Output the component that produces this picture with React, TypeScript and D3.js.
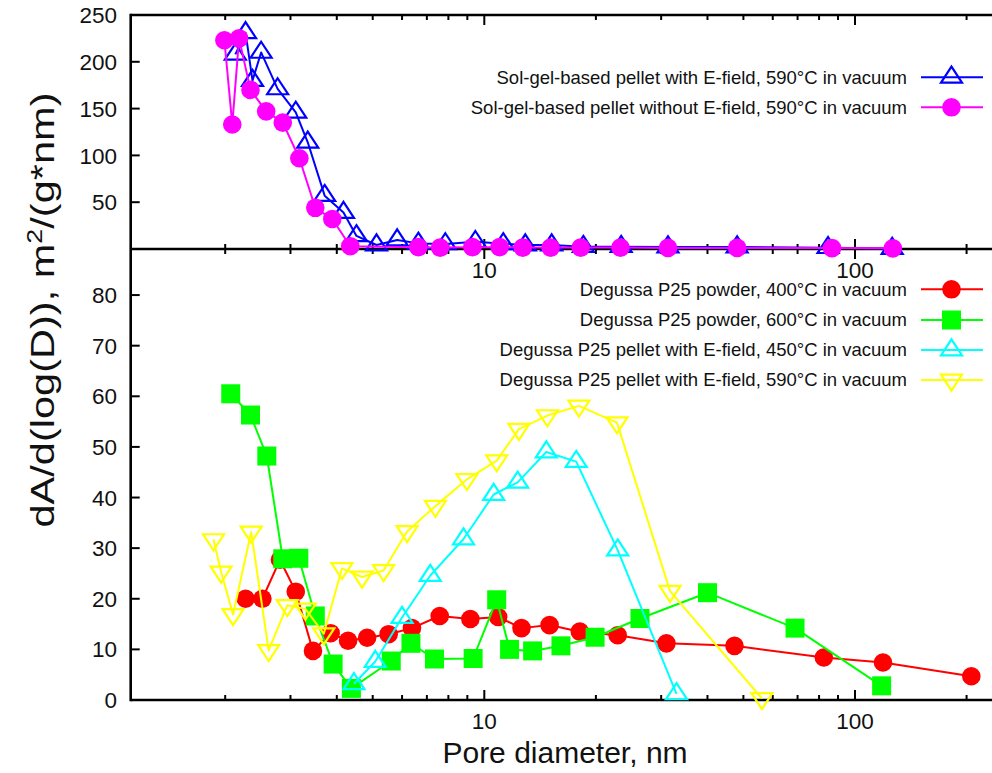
import React from "react";
import * as d3 from "d3";

// ---- Upper panel: sol-gel-based pellets ----
const solGelEfieldD = [2.13, 2.27, 2.37, 2.5, 2.77, 3.1, 3.34, 3.71, 4.17, 4.52, 5.12, 5.82, 6.64, 7.85, 9.46, 11.25, 12.9, 15.2, 18.5, 23.4, 31.3, 48.1, 84.6, 126];
const solGelEfieldV = [208, 231, 180, 210, 171, 146, 114, 57, 39, 14, 4.3, 9.6, 6, 5.4, 7.8, 5.5, 4.3, 4.3, 2.5, 2.5, 2.1, 2.1, 1.4, 0.5];

const solGelNoFieldD = [1.99, 2.09, 2.18, 2.34, 2.58, 2.86, 3.17, 3.5, 3.89, 4.35, 6.64, 7.6, 9.29, 11.0, 12.7, 15.1, 18.2, 23.3, 31.3, 48.1, 86.7, 126.5];
const solGelNoFieldV = [223, 133, 225, 170, 147, 135, 97, 44, 32, 3, 2, 1.5, 2, 2, 1.5, 1.5, 1.5, 1.5, 1.2, 1.2, 1, 0.7];

// ---- Lower panel: Degussa P25 ----
const powder400D = [2.27, 2.52, 2.81, 3.1, 3.45, 3.85, 4.29, 4.83, 5.52, 6.38, 7.58, 9.17, 10.9, 12.6, 15.0, 18.1, 22.9, 31.0, 47.3, 82.4, 119, 206];
const powder400V = [20.0, 20.0, 27.7, 21.4, 9.7, 13.2, 11.7, 12.3, 13.0, 14.2, 16.6, 16.0, 16.4, 14.2, 14.8, 13.5, 12.8, 11.2, 10.7, 8.4, 7.4, 4.7];

const powder600D = [2.07, 2.34, 2.59, 2.86, 3.16, 3.5, 3.91, 4.38, 5.61, 6.34, 7.34, 9.33, 10.8, 11.7, 13.5, 16.1, 19.9, 26.3, 40.0, 68.9, 118];
const powder600V = [60.5, 56.3, 48.2, 27.9, 28.0, 16.6, 7.1, 2.3, 7.7, 11.2, 8.1, 8.2, 19.8, 10.0, 9.7, 10.7, 12.4, 16.1, 21.2, 14.2, 2.8];

const pellet450D = [4.45, 5.08, 6.0, 7.15, 8.79, 10.6, 12.3, 14.7, 17.7, 22.9, 33.0];
const pellet450V = [3.2, 7.6, 16.3, 24.6, 31.8, 40.6, 43.0, 49.0, 47.1, 29.6, 1.2];

const pellet590D = [1.86, 1.95, 2.1, 2.35, 2.62, 2.94, 3.29, 3.69, 4.13, 4.68, 5.35, 6.19, 7.38, 8.98, 10.8, 12.4, 14.8, 18.0, 22.8, 31.7, 56.1];
const pellet590V = [31.7, 25.3, 16.9, 33.2, 9.8, 18.7, 18.0, 13.1, 26.0, 24.3, 25.6, 33.3, 38.3, 43.6, 47.3, 53.5, 56.2, 58.1, 54.8, 21.5, 0.3];

// ---- Axes ----
const xDomain = [1.112, 250];
const xMajorTicks = [10, 100];
const xMinorTicks = [2, 3, 4, 5, 6, 7, 8, 9, 20, 30, 40, 50, 60, 70, 80, 90, 200];
const topYTicks = [50, 100, 150, 200, 250];
const botYTicks = [0, 10, 20, 30, 40, 50, 60, 70, 80];

const topLegend = [
  "Sol-gel-based pellet with E-field, 590°C in vacuum",
  "Sol-gel-based pellet without E-field, 590°C in vacuum",
];
const botLegend = [
  "Degussa P25 powder, 400°C in vacuum",
  "Degussa P25 powder, 600°C in vacuum",
  "Degussa P25 pellet with E-field, 450°C in vacuum",
  "Degussa P25 pellet with E-field, 590°C in vacuum",
];

type Marker = "circle" | "square" | "tri" | "triDown";

const FONT = "'Liberation Sans', Arial, Helvetica, sans-serif";
const W = 992;
const H = 773;
const LEFT = 130.7;
const RIGHT = 1002.5;
const TOP = 15;
const SEP = 249;
const BOTTOM = 700;

const x = d3.scaleLog().domain(xDomain).range([LEFT, RIGHT]);
const yTop = d3.scaleLinear().domain([0, 250]).range([SEP, TOP]);
const yBot = d3.scaleLinear().domain([0, 89.1]).range([BOTTOM, SEP]);

function markerPath(kind: Marker, cx: number, cy: number): string {
  if (kind === "circle") {
    const r = 9.3;
    return `M${cx - r},${cy}a${r},${r} 0 1,0 ${2 * r},0a${r},${r} 0 1,0 ${-2 * r},0Z`;
  }
  if (kind === "square") {
    const h = 9.5;
    return `M${cx - h},${cy - h}H${cx + h}V${cy + h}H${cx - h}Z`;
  }
  const hw = 10.5;
  if (kind === "tri") {
    return `M${cx},${cy - 10.7}L${cx + hw},${cy + 5.3}L${cx - hw},${cy + 5.3}Z`;
  }
  return `M${cx},${cy + 10.7}L${cx + hw},${cy - 5.3}L${cx - hw},${cy - 5.3}Z`;
}

function Series({ xs, ys, y, color, marker }: { xs: number[]; ys: number[]; y: d3.ScaleLinear<number, number>; color: string; marker: Marker }) {
  const pts = xs.map((d, i) => [d, ys[i]] as [number, number]);
  const line = d3.line<[number, number]>().x((p) => x(p[0])).y((p) => y(p[1]));
  const filled = marker === "circle" || marker === "square";
  return (
    <g>
      <path d={line(pts) || ""} fill="none" stroke={color} strokeWidth={2} strokeLinejoin="round" />
      {pts.map((p, i) => (
        <path
          key={i}
          d={markerPath(marker, x(p[0]), y(p[1]))}
          fill={filled ? color : "none"}
          stroke={filled ? "none" : color}
          strokeWidth={2.2}
        />
      ))}
    </g>
  );
}

function LegendRow({ label, color, marker, cy }: { label: string; color: string; marker: Marker; cy: number }) {
  const filled = marker === "circle" || marker === "square";
  return (
    <g>
      <text x={907} y={cy} dy="0.35em" textAnchor="end" fontSize={18.5} fontFamily={FONT} fill="#111">
        {label}
      </text>
      <line x1={921} x2={983} y1={cy} y2={cy} stroke={color} strokeWidth={2} />
      <path d={markerPath(marker, 951.5, cy)} fill={filled ? color : "none"} stroke={filled ? "none" : color} strokeWidth={2.2} />
    </g>
  );
}

export default function App() {
  const axisW = 2.6;
  const xTicksAt = (yLine: number, dir: number) => (
    <g>
      {xMajorTicks.map((t) => (
        <line key={"M" + t} x1={x(t)} x2={x(t)} y1={yLine} y2={yLine + dir * 10} stroke="#000" strokeWidth={2} />
      ))}
      {xMinorTicks.map((t) => (
        <line key={"m" + t} x1={x(t)} x2={x(t)} y1={yLine} y2={yLine + dir * 5} stroke="#000" strokeWidth={2} />
      ))}
    </g>
  );

  return (
    <svg width={W} height={H} style={{ position: "absolute", left: 0, top: 0, background: "#fff" }} fontFamily={FONT}>
      <rect x={0} y={0} width={W} height={H} fill="#fff" />

      {/* frame */}
      <line x1={LEFT} x2={RIGHT} y1={TOP} y2={TOP} stroke="#000" strokeWidth={axisW} />
      <line x1={LEFT} x2={RIGHT} y1={SEP} y2={SEP} stroke="#000" strokeWidth={axisW} />
      <line x1={LEFT} x2={RIGHT} y1={BOTTOM} y2={BOTTOM} stroke="#000" strokeWidth={axisW} />
      <line x1={LEFT} x2={LEFT} y1={TOP - 1.3} y2={BOTTOM + 1.3} stroke="#000" strokeWidth={axisW} />

      {/* x ticks */}
      {xTicksAt(TOP, 1)}
      {xTicksAt(SEP, -1)}
      {xTicksAt(SEP, 1)}
      {xTicksAt(BOTTOM, -1)}

      {/* y ticks + labels, upper panel */}
      {topYTicks.map((t) => (
        <g key={"ty" + t}>
          {t < 250 && <line x1={LEFT} x2={LEFT + 9} y1={yTop(t)} y2={yTop(t)} stroke="#000" strokeWidth={2} />}
          <text x={117} y={yTop(t)} dy="0.36em" textAnchor="end" fontSize={22.5} fill="#111">
            {t}
          </text>
        </g>
      ))}

      {/* y ticks + labels, lower panel */}
      {botYTicks.map((t) => (
        <g key={"by" + t}>
          {t > 0 && <line x1={LEFT} x2={LEFT + 9} y1={yBot(t)} y2={yBot(t)} stroke="#000" strokeWidth={2} />}
          <text x={117} y={yBot(t)} dy="0.36em" textAnchor="end" fontSize={22.5} fill="#111">
            {t}
          </text>
        </g>
      ))}

      {/* x tick labels */}
      {xMajorTicks.map((t) => (
        <g key={"xl" + t}>
          <text x={x(t)} y={278} textAnchor="middle" fontSize={22.5} fill="#111">
            {t}
          </text>
          <text x={x(t)} y={729} textAnchor="middle" fontSize={22.5} fill="#111">
            {t}
          </text>
        </g>
      ))}

      {/* axis titles */}
      <text x={565} y={763} textAnchor="middle" fontSize={30} fill="#111">
        Pore diameter, nm
      </text>
      <text
        transform="translate(54,310) rotate(-90)"
        textAnchor="middle"
        fontSize={34}
        fill="#111"
        textLength={435}
        lengthAdjust="spacingAndGlyphs"
      >
        dA/d(log(D)), m<tspan baseline-shift="super" fontSize={22}>2</tspan>/(g*nm)
      </text>

      {/* upper panel data */}
      <Series xs={solGelEfieldD} ys={solGelEfieldV} y={yTop} color="#0000ff" marker="tri" />
      <Series xs={solGelNoFieldD} ys={solGelNoFieldV} y={yTop} color="#ff00ff" marker="circle" />

      {/* lower panel data */}
      <Series xs={powder400D} ys={powder400V} y={yBot} color="#ff0000" marker="circle" />
      <Series xs={powder600D} ys={powder600V} y={yBot} color="#00ff00" marker="square" />
      <Series xs={pellet450D} ys={pellet450V} y={yBot} color="#00ffff" marker="tri" />
      <Series xs={pellet590D} ys={pellet590V} y={yBot} color="#ffff00" marker="triDown" />

      {/* legends */}
      <LegendRow label={topLegend[0]} color="#0000ff" marker="tri" cy={77.3} />
      <LegendRow label={topLegend[1]} color="#ff00ff" marker="circle" cy={107.3} />
      <LegendRow label={botLegend[0]} color="#ff0000" marker="circle" cy={289.3} />
      <LegendRow label={botLegend[1]} color="#00ff00" marker="square" cy={320} />
      <LegendRow label={botLegend[2]} color="#00ffff" marker="tri" cy={350} />
      <LegendRow label={botLegend[3]} color="#ffff00" marker="triDown" cy={380} />
    </svg>
  );
}
